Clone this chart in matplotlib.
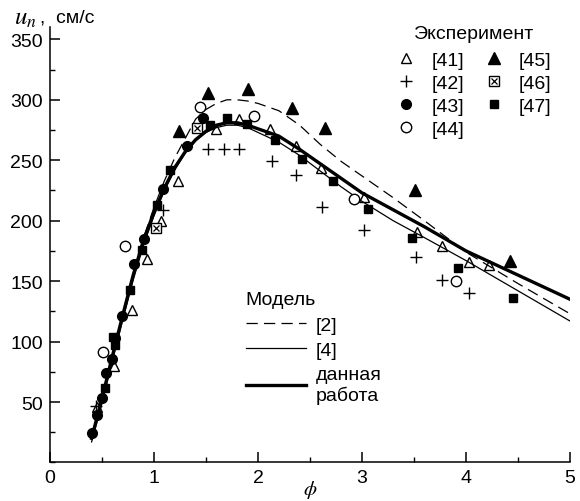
"""
Burning velocity u_n vs equivalence ratio: experiments and models.
"""

import matplotlib
matplotlib.use('Agg')
import matplotlib.pyplot as plt
from matplotlib.ticker import MultipleLocator

plt.rcParams['font.family'] = ['Liberation Sans', 'DejaVu Sans']
plt.rcParams['mathtext.fontset'] = 'stix'

# Experimental points, one pair of lists per source
x41 = [0.45, 0.62, 0.79, 0.93, 1.07, 1.23, 1.60, 1.82, 2.12, 2.37, 2.61, 3.02, 3.53, 3.77, 4.03, 4.22]
y41 = [46, 80, 126, 168, 200, 233, 276, 284, 276, 262, 244, 220, 191, 179, 166, 163]

x42 = [0.44, 1.09, 1.52, 1.67, 1.82, 2.13, 2.37, 2.62, 3.02, 3.52, 3.77, 4.03]
y42 = [47, 209, 259, 259, 259, 249, 238, 211, 192, 170, 151, 140]

x43 = [0.40, 0.45, 0.50, 0.54, 0.60, 0.625, 0.69, 0.81, 0.90, 1.09, 1.32, 1.47]
y43 = [24, 39, 53, 74, 86, 103, 121, 164, 185, 226, 262, 285]

x44 = [0.51, 0.72, 1.44, 1.96, 2.92, 3.90]
y44 = [91, 179, 294, 287, 218, 150]

x45 = [1.24, 1.52, 1.90, 2.33, 2.64, 3.51, 4.42]
y45 = [274, 306, 309, 293, 277, 225, 167]

x46 = [1.02, 1.41]
y46 = [194, 277]

x47 = [0.53, 0.61, 0.625, 0.77, 0.88, 1.03, 1.15, 1.54, 1.70, 1.89, 2.16, 2.42, 2.72, 3.06, 3.48, 3.92, 4.45]
y47 = [62, 104, 97, 143, 176, 213, 242, 279, 285, 280, 267, 251, 233, 210, 186, 161, 136]

# Model curves
phi = [0.40, 0.50, 0.60, 0.70, 0.80, 0.90, 1.00, 1.10, 1.20, 1.30, 1.40, 1.50, 1.60, 1.70,
       1.80, 1.90, 2.00, 2.20, 2.40, 2.60, 2.80, 3.00, 3.30, 3.60, 4.00, 4.50, 5.00]
un_ref2 = [20, 53, 88, 122, 156, 186, 211, 233, 252, 268, 284, 292, 297, 300,
           300, 299, 297, 291, 279, 263, 249, 237, 219, 200, 174, 148, 123]
un_ref4 = [17, 49, 84, 118, 151, 180, 204, 225, 242, 256, 266, 273, 277, 279,
           279, 277, 273, 265, 254, 241, 228, 216, 200, 186, 167, 142, 117]
un_this = [20, 53, 88, 122, 155, 184, 207, 227, 244, 257, 267, 274, 279, 281,
           281, 279, 276, 270, 259, 247, 235, 223, 209, 195, 175, 155, 135]

fig = plt.figure(figsize=(5.8, 5.02), dpi=100)
ax = fig.add_axes([0.0862, 0.0767, 0.8966, 0.867])

# Model lines
l2, = ax.plot(phi, un_ref2, color='black', lw=0.9, dashes=(9, 5))
l4, = ax.plot(phi, un_ref4, color='black', lw=0.9)
lt, = ax.plot(phi, un_this, color='black', lw=2.4)

# Experimental markers
h41, = ax.plot(x41, y41, ls='none', marker='^', ms=7.5, mfc='none', mec='black', mew=1.0)
h42, = ax.plot(x42, y42, ls='none', marker='+', ms=8, mec='black', mew=1.0)
h43, = ax.plot(x43, y43, ls='none', marker='o', ms=7, mfc='black', mec='black')
h44, = ax.plot(x44, y44, ls='none', marker='o', ms=7.5, mfc='white', mec='black', mew=1.0)
h45, = ax.plot(x45, y45, ls='none', marker='^', ms=8, mfc='black', mec='black')
h46a, = ax.plot(x46, y46, ls='none', marker='s', ms=6.5, mfc='white', mec='black', mew=1.0)
h46b, = ax.plot(x46, y46, ls='none', marker='x', ms=4.5, mec='black', mew=0.9)
h47, = ax.plot(x47, y47, ls='none', marker='s', ms=6, mfc='black', mec='black')

# Axes formatting
ax.set_xlim(0, 5)
ax.set_ylim(0, 360)
ax.spines['top'].set_visible(False)
ax.spines['right'].set_visible(False)
for s in ('left', 'bottom'):
    ax.spines[s].set_linewidth(1.1)
ax.xaxis.set_major_locator(MultipleLocator(1))
ax.xaxis.set_minor_locator(MultipleLocator(0.5))
ax.yaxis.set_minor_locator(MultipleLocator(25))
ax.set_yticks([50, 100, 150, 200, 250, 300, 350])
ax.tick_params(which='major', direction='in', length=7, width=1.1, labelsize=14, pad=5)
ax.tick_params(which='minor', direction='in', length=3.5, width=1.0)

ax.set_xlabel(r'$\phi$', fontsize=15, labelpad=-6)
fig.text(14 / 580, 1 - 18 / 502, r'$u_n$', fontsize=18, va='center', ha='left')
fig.text(40 / 580, 1 - 18 / 502, ',  см/с', fontsize=14, va='center', ha='left')

# Legends
exp_handles = [h41, h42, h43, h44, h45, (h46a, h46b), h47]
exp_labels = ['[41]', '[42]', '[43]', '[44]', '[45]', '[46]', '[47]']
leg1 = ax.legend(exp_handles, exp_labels, ncol=2, title='Эксперимент', frameon=False,
                 loc='upper left', bbox_to_anchor=(383 / 580, 1 - 12 / 502),
                 bbox_transform=fig.transFigure, fontsize=14, title_fontsize=14,
                 handlelength=1.0, handletextpad=0.8, columnspacing=1.0,
                 labelspacing=0.28, borderpad=0.2)
leg1._legend_box.sep = 7
ax.add_artist(leg1)

leg2 = ax.legend([l2, l4, lt], ['[2]', '[4]', 'данная\nработа'], title='Модель', frameon=False,
                 loc='upper left', bbox_to_anchor=(232 / 580, 1 - 278 / 502),
                 bbox_transform=fig.transFigure, fontsize=14, title_fontsize=14,
                 handlelength=3.1, handletextpad=0.5, labelspacing=0.38, borderpad=0.2,
                 alignment='left')
leg2._legend_box.sep = 6

fig.savefig('out.png', dpi=100)
